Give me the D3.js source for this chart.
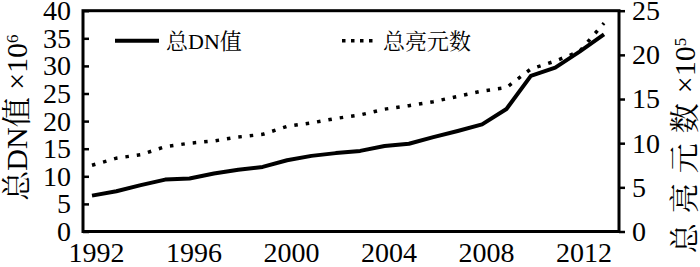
<!DOCTYPE html>
<html>
<head>
<meta charset="utf-8">
<script src="https://cdn.jsdelivr.net/npm/d3@7"></script>
<style>
  body { margin: 0; background: #fff; }
  svg { display: block; }
</style>
</head>
<body>
<div id="wrapper"></div>
<script>
// data
const years = [1992, 1993, 1994, 1995, 1996, 1997, 1998, 1999, 2000, 2001, 2002,
  2003, 2004, 2005, 2006, 2007, 2008, 2009, 2010, 2011, 2012, 2013]
const totalDN = [6.5, 7.3, 8.4, 9.4, 9.6, 10.5, 11.2, 11.7, 12.9, 13.7, 14.2,
  14.6, 15.5, 15.9, 17.1, 18.2, 19.4, 22.2, 28.2, 29.7, 32.6, 35.7]
const totalPixels = [7.5, 8.3, 8.7, 9.6, 10.0, 10.25, 10.7, 11.0, 11.9, 12.3, 12.8,
  13.2, 13.85, 14.25, 14.7, 15.3, 15.9, 16.3, 18.4, 19.3, 20.4, 23.6]
const xTicks = [1992, 1996, 2000, 2004, 2008, 2012]
const leftTicks = [0, 5, 10, 15, 20, 25, 30, 35, 40]
const rightTicks = [0, 5, 10, 15, 20, 25]

const FONT = '"Liberation Serif", "Noto Serif CJK SC", "Noto Sans CJK SC", serif'

function drawChart() {
  // 1. dimensions
  const dimensions = {
    width: 700,
    height: 267,
    margin: { top: 10.7, right: 81, bottom: 35.5, left: 83 },
  }
  dimensions.boundedWidth = dimensions.width - dimensions.margin.left - dimensions.margin.right
  dimensions.boundedHeight = dimensions.height - dimensions.margin.top - dimensions.margin.bottom

  // 2. canvas
  const wrapper = d3.select("#wrapper")
    .append("svg")
      .attr("width", dimensions.width)
      .attr("height", dimensions.height)

  const bounds = wrapper.append("g")
      .attr("transform", `translate(${dimensions.margin.left},${dimensions.margin.top})`)

  // 3. scales
  const xScale = d3.scaleLinear()
    .domain([1992, 2013])
    .range([9, 521])
  const yLeft = d3.scaleLinear()
    .domain([0, 40])
    .range([dimensions.boundedHeight, 0])
  const yRight = d3.scaleLinear()
    .domain([0, 25])
    .range([dimensions.boundedHeight, 0])

  // 4. lines
  const dnLine = d3.line()
    .x((d, i) => xScale(years[i]))
    .y(d => yLeft(d))
  const pxLine = d3.line()
    .x((d, i) => xScale(years[i]))
    .y(d => yRight(d))

  bounds.append("path")
      .attr("d", pxLine(totalPixels))
      .attr("fill", "none")
      .attr("stroke", "#000")
      .attr("stroke-width", 3.5)
      .attr("stroke-dasharray", "3.5,8")

  bounds.append("path")
      .attr("d", dnLine(totalDN))
      .attr("fill", "none")
      .attr("stroke", "#000")
      .attr("stroke-width", 4)
      .attr("stroke-linejoin", "round")

  // 5. axes
  const leftAxis = d3.axisLeft(yLeft)
    .tickValues(leftTicks)
    .tickSizeInner(-6)
    .tickSizeOuter(0)
    .tickPadding(12)
  const leftG = bounds.append("g").call(leftAxis)

  const rightAxis = d3.axisRight(yRight)
    .tickValues(rightTicks)
    .tickSizeInner(6)
    .tickSizeOuter(0)
    .tickPadding(7)
  const rightG = bounds.append("g")
      .attr("transform", `translate(${dimensions.boundedWidth},0)`)
      .call(rightAxis)

  const bottomAxis = d3.axisBottom(xScale)
    .tickValues(xTicks)
    .tickFormat(d3.format("d"))
    .tickSize(0)
    .tickPadding(10)
  const bottomG = bounds.append("g")
      .attr("transform", `translate(0,${dimensions.boundedHeight})`)
      .call(bottomAxis)

  ;[leftG, rightG, bottomG].forEach(g => {
    g.select(".domain").remove()
    g.selectAll(".tick line").attr("stroke", "#000").attr("stroke-width", 2.5)
    g.selectAll(".tick text")
      .attr("fill", "#000")
      .style("font-family", FONT)
      .style("font-size", "28px")
  })
  bottomG.selectAll(".tick text").attr("dx", 4).attr("dy", "0.72em")

  // frame
  bounds.append("rect")
      .attr("width", dimensions.boundedWidth)
      .attr("height", dimensions.boundedHeight)
      .attr("fill", "none")
      .attr("stroke", "#000")
      .attr("stroke-width", 3)

  // 6. axis titles (read bottom to top)
  const leftTitle = wrapper.append("text")
      .attr("transform", "translate(27,117.5) rotate(-90)")
      .attr("text-anchor", "middle")
      .attr("fill", "#000")
      .style("font-family", FONT)
      .style("font-size", "30px")
  leftTitle.append("tspan").text("总DN值 ×10")
  leftTitle.append("tspan").attr("dy", -9).style("font-size", "17px").text("6")

  const rightTitle = wrapper.append("text")
      .attr("transform", "translate(695,145.5) rotate(-90)")
      .attr("text-anchor", "middle")
      .attr("fill", "#000")
      .style("font-family", FONT)
      .style("font-size", "30px")
  rightTitle.append("tspan").style("letter-spacing", "10px").text("总亮元数")
  rightTitle.append("tspan").text("×10")
  rightTitle.append("tspan").attr("dy", -9).style("font-size", "17px").text("5")

  // 7. legend
  const legend = wrapper.append("g")
  legend.append("line")
      .attr("x1", 115).attr("x2", 159)
      .attr("y1", 40.7).attr("y2", 40.7)
      .attr("stroke", "#000")
      .attr("stroke-width", 4)
  legend.append("text")
      .attr("x", 166).attr("y", 41)
      .attr("dy", "0.35em")
      .attr("fill", "#000")
      .style("font-family", FONT)
      .style("font-size", "22px")
      .text("总DN值")
  legend.append("line")
      .attr("x1", 342).attr("x2", 373)
      .attr("y1", 40.7).attr("y2", 40.7)
      .attr("stroke", "#000")
      .attr("stroke-width", 3.5)
      .attr("stroke-dasharray", "3.5,5.5")
  legend.append("text")
      .attr("x", 383).attr("y", 41)
      .attr("dy", "0.35em")
      .attr("fill", "#000")
      .style("font-family", FONT)
      .style("font-size", "22px")
      .text("总亮元数")
}
drawChart()
</script>
</body>
</html>
